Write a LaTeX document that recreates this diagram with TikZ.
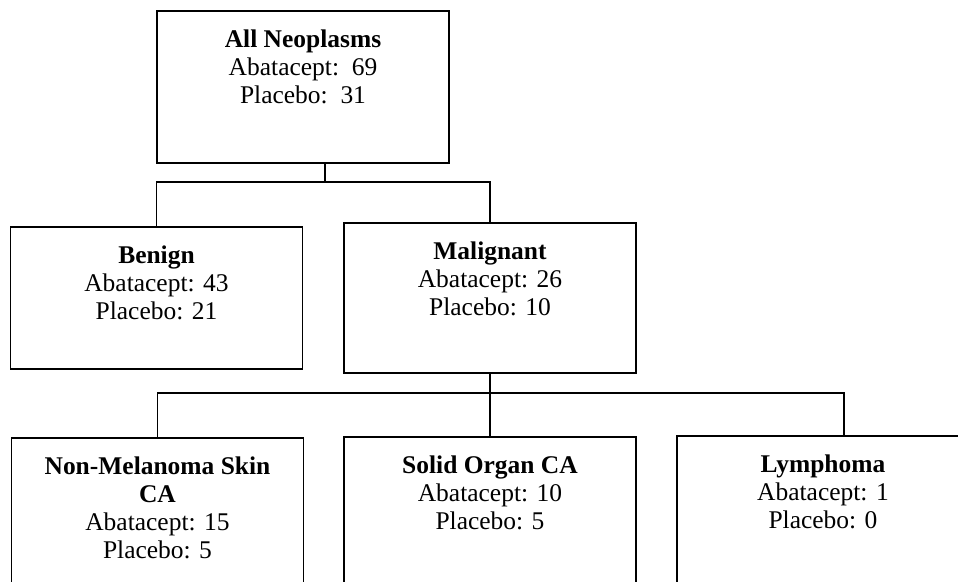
\documentclass[tikz,border=0pt]{standalone}
\usepackage{fontspec}
\setmainfont{Liberation Serif}

\begin{document}
\begin{tikzpicture}[
  x=0.02cm, y=-0.02cm, line width=1pt,
  box/.style={draw,minimum width=5.84cm,inner sep=0pt},
  txt/.style={anchor=north,align=center,inner sep=0pt,font=\fontsize{14.5}{16}\selectfont}
]
  \useasboundingbox (0,0) rectangle (958,582);
  \clip (0,0) rectangle (958,582);
  % boxes
  \node[box,minimum height=3.04cm] (all) at (303,87) {};
  \node[box,minimum height=2.84cm] (ben) at (156.5,298) {};
  \node[box,minimum height=3.00cm] (mal) at (490,298) {};
  \node[box,minimum height=3.20cm] (nms) at (157.5,518) {};
  \node[box,minimum height=3.20cm] (sol) at (490,517) {};
  \node[box,minimum height=3.20cm] (lym) at (823,516) {};
  % texts
  \node[txt] (all-t) at ([yshift=-0.37cm]all.north) {\textbf{All Neoplasms}\\Abatacept:\ \ 69\\Placebo:\ \ 31};
  \node[txt] (ben-t) at ([yshift=-0.37cm]ben.north) {\textbf{Benign}\\Abatacept: 43\\Placebo: 21};
  \node[txt] (mal-t) at ([yshift=-0.37cm]mal.north) {\textbf{Malignant}\\Abatacept: 26\\Placebo: 10};
  \node[txt] (nms-t) at ([yshift=-0.37cm]nms.north) {\textbf{Non-Melanoma Skin}\\\textbf{CA}\\Abatacept: 15\\Placebo: 5};
  \node[txt] (sol-t) at ([yshift=-0.37cm]sol.north) {\textbf{Solid Organ CA}\\Abatacept: 10\\Placebo: 5};
  \node[txt] (lym-t) at ([yshift=-0.37cm]lym.north) {\textbf{Lymphoma}\\Abatacept: 1\\Placebo: 0};
  % connectors
  \coordinate (bus1) at (0,182);
  \coordinate (bus2) at (0,393);
  \draw ([xshift=0.44cm]all.south) |- (ben.north |- bus1) -- (ben.north);
  \draw ([xshift=0.44cm]all.south) |- (mal.north |- bus1) -- (mal.north);
  \draw (mal.south) -- (sol.north);
  \draw (nms.north) |- ([xshift=0.42cm]lym.north |- bus2) -- ([xshift=0.42cm]lym.north);
\end{tikzpicture}
\end{document}
